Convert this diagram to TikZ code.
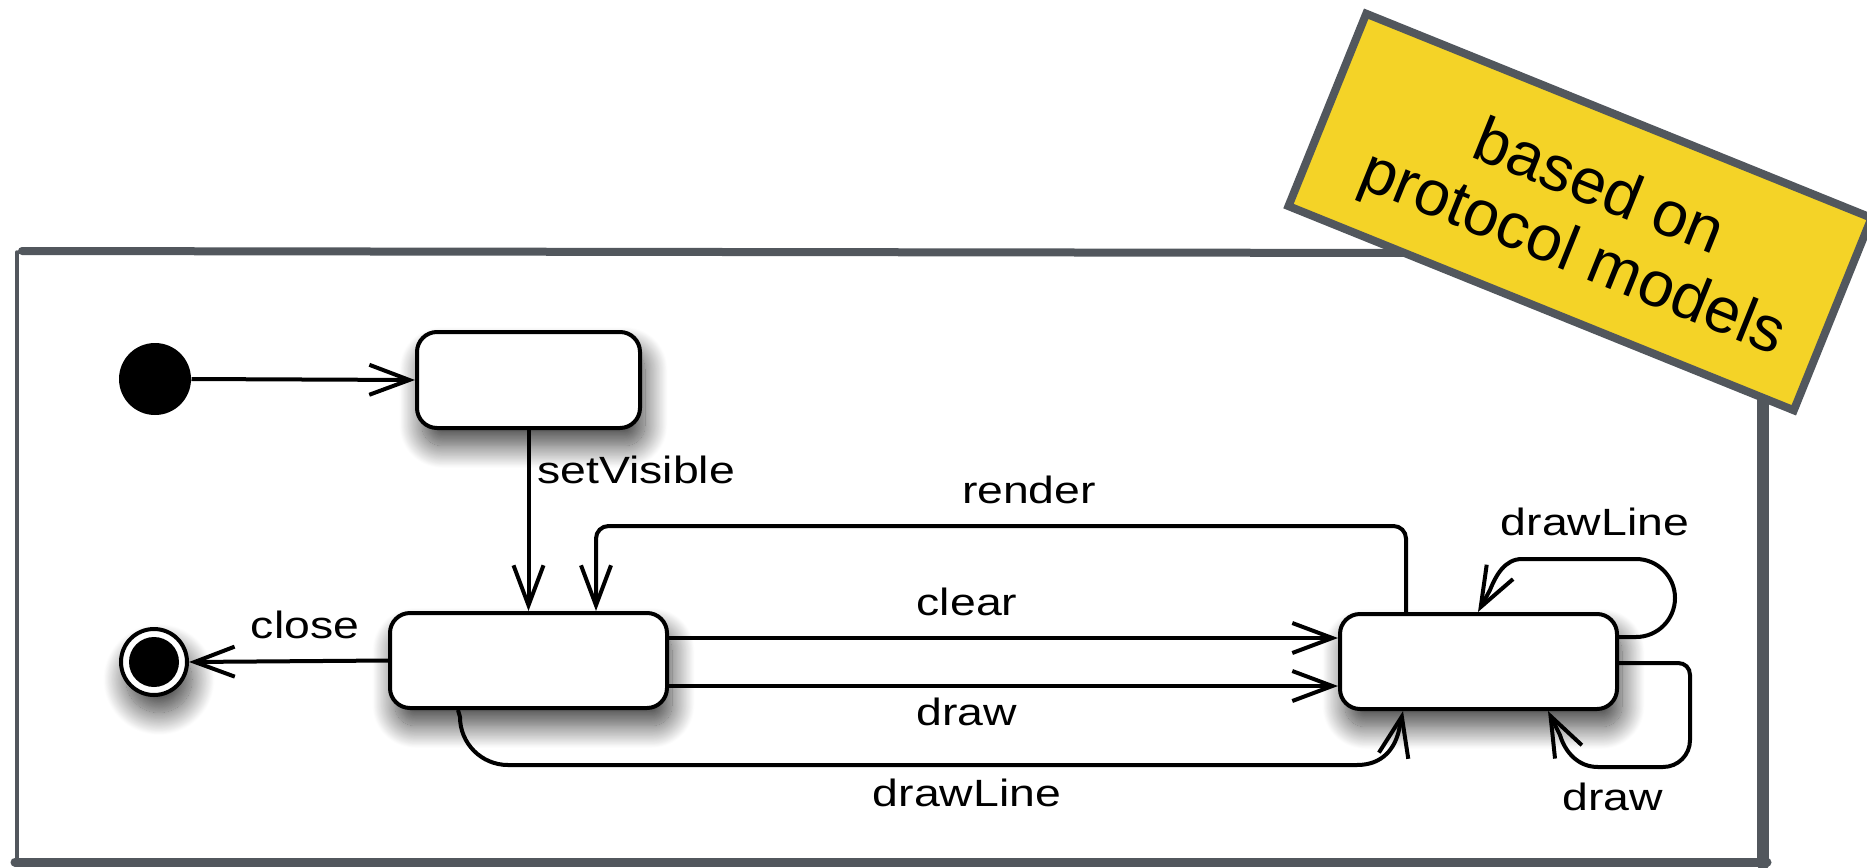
\documentclass[tikz,border=0pt]{standalone}
\usepackage{fontspec}
\setmainfont{Liberation Sans}
\newfontfamily\lblfont[FakeStretch=1.22]{Liberation Sans}
\usetikzlibrary{arrows.meta,shadows.blur}
\definecolor{frameg}{RGB}{82,87,93}
\definecolor{noteyel}{RGB}{244,211,39}
\begin{document}
\begin{tikzpicture}[x=0.4pt,y=-0.4pt,
  shad/.style={blur shadow={shadow xshift=2pt, shadow yshift=-7pt, shadow blur radius=9pt, shadow blur steps=30, shadow opacity=75}},
  state/.style={draw, line width=1.6pt, rounded corners=8pt, fill=white, minimum width=110.8pt, minimum height=38pt, inner sep=0pt, shad},
  tr/.style={line width=1.6pt, -{Straight Barb[length=16pt,width=12pt,line width=1.6pt]}},
  lbl/.style={font=\lblfont\fontsize{15.2}{18}\selectfont, inner sep=0pt},
  frm/.style={frameg, line cap=round},
  ]
\useasboundingbox (0,0) rectangle (1867,867);
% frame
\draw[frm, line width=3.2pt] (22,251) -- (1430,253);
\draw[frm, line width=1.4pt] (17,252) -- (17,862);
\draw[frm, line width=3.6pt] (15,862) -- (1767,862);
\draw[frm, line width=5pt] (1763,300) -- (1763,864);
% states
\node[circle, fill=black, minimum size=28.8pt, inner sep=0pt] (init) at (155,379) {};
\node[state, minimum width=89.2pt, minimum height=38.4pt] (A) at (528.5,380) {};
\node[state] (B) at (528.5,660.5) {};
\node[state] (C) at (1478.5,661.5) {};
\node[circle, draw, line width=1.6pt, fill=white, minimum size=26.4pt, inner sep=0pt, shad] (fin) at (154,662) {};
\node[circle, fill=black, minimum size=20pt, inner sep=0pt] (finin) at (fin.center) {};
% transitions
\draw[tr] (init.east) -- (A.west);
\draw[tr] (A.south) -- (B.north);
\node[lbl, anchor=base west] (lsv) at (537,483) {setVisible};
\draw[tr] (B.west) -- (fin.east);
\node[lbl, anchor=base] (lclose) at (305,638) {close};
\draw[tr, rounded corners=5pt] ([xshift=27.2pt]C.north west) -- ++(0,-86) -| ([xshift=83.2pt]B.north west);
\node[lbl, anchor=base] (lrender) at (1029,503) {render};
\draw[tr] ([yshift=9pt]B.east) -- ([yshift=9pt]B.east -| C.west);
\node[lbl, anchor=base] (lclear) at (967,615) {clear};
\draw[tr] ([yshift=-10.2pt]B.east) -- ([yshift=-10.2pt]B.east -| C.west);
\node[lbl, anchor=base] (ldraw) at (967,725) {draw};
\draw[tr] ([xshift=28pt]B.south west) -- (460,717) .. controls (460,743.5) and (481.5,765) .. (508,765) -- (1357,765) .. controls (1383,765) and (1395,748) .. (1399,730) -- ([xshift=26pt]C.south west);
\node[lbl, anchor=base] (ldl) at (967,806) {drawLine};
\draw[tr] ([yshift=9.8pt]C.east) -- (1636,637) .. controls (1657.5,637) and (1675,619.5) .. (1675,598) .. controls (1675,576.5) and (1657.5,559) .. (1636,559) -- (1522,559) .. controls (1505,559) and (1496,575) .. (1490,590) -- ([xshift=56pt]C.north west);
\node[lbl, anchor=base] (ldl2) at (1595,535) {drawLine};
\draw[tr] ([yshift=-0.6pt]C.east) -- (1678,663) .. controls (1685,663) and (1690,668) .. (1690,675) -- (1690,740) .. controls (1690,755) and (1678,767) .. (1663,767) -- (1598,767) .. controls (1578,767) and (1565,752) .. (1560,735) -- ([xshift=84pt]C.south west);
\node[lbl, anchor=base] (ldraw2) at (1613,810) {draw};
% note
\node[rotate=-22, fill=noteyel, draw=frameg, line width=3.2pt, minimum width=218pt, minimum height=83pt, inner sep=0pt] (note) at (1580,212) {};
\node[rotate=-22, align=center, font=\fontsize{25.6}{28}\selectfont, inner sep=0pt] (notetext) at (1585,223) {based on\\protocol models};
\end{tikzpicture}
\end{document}
